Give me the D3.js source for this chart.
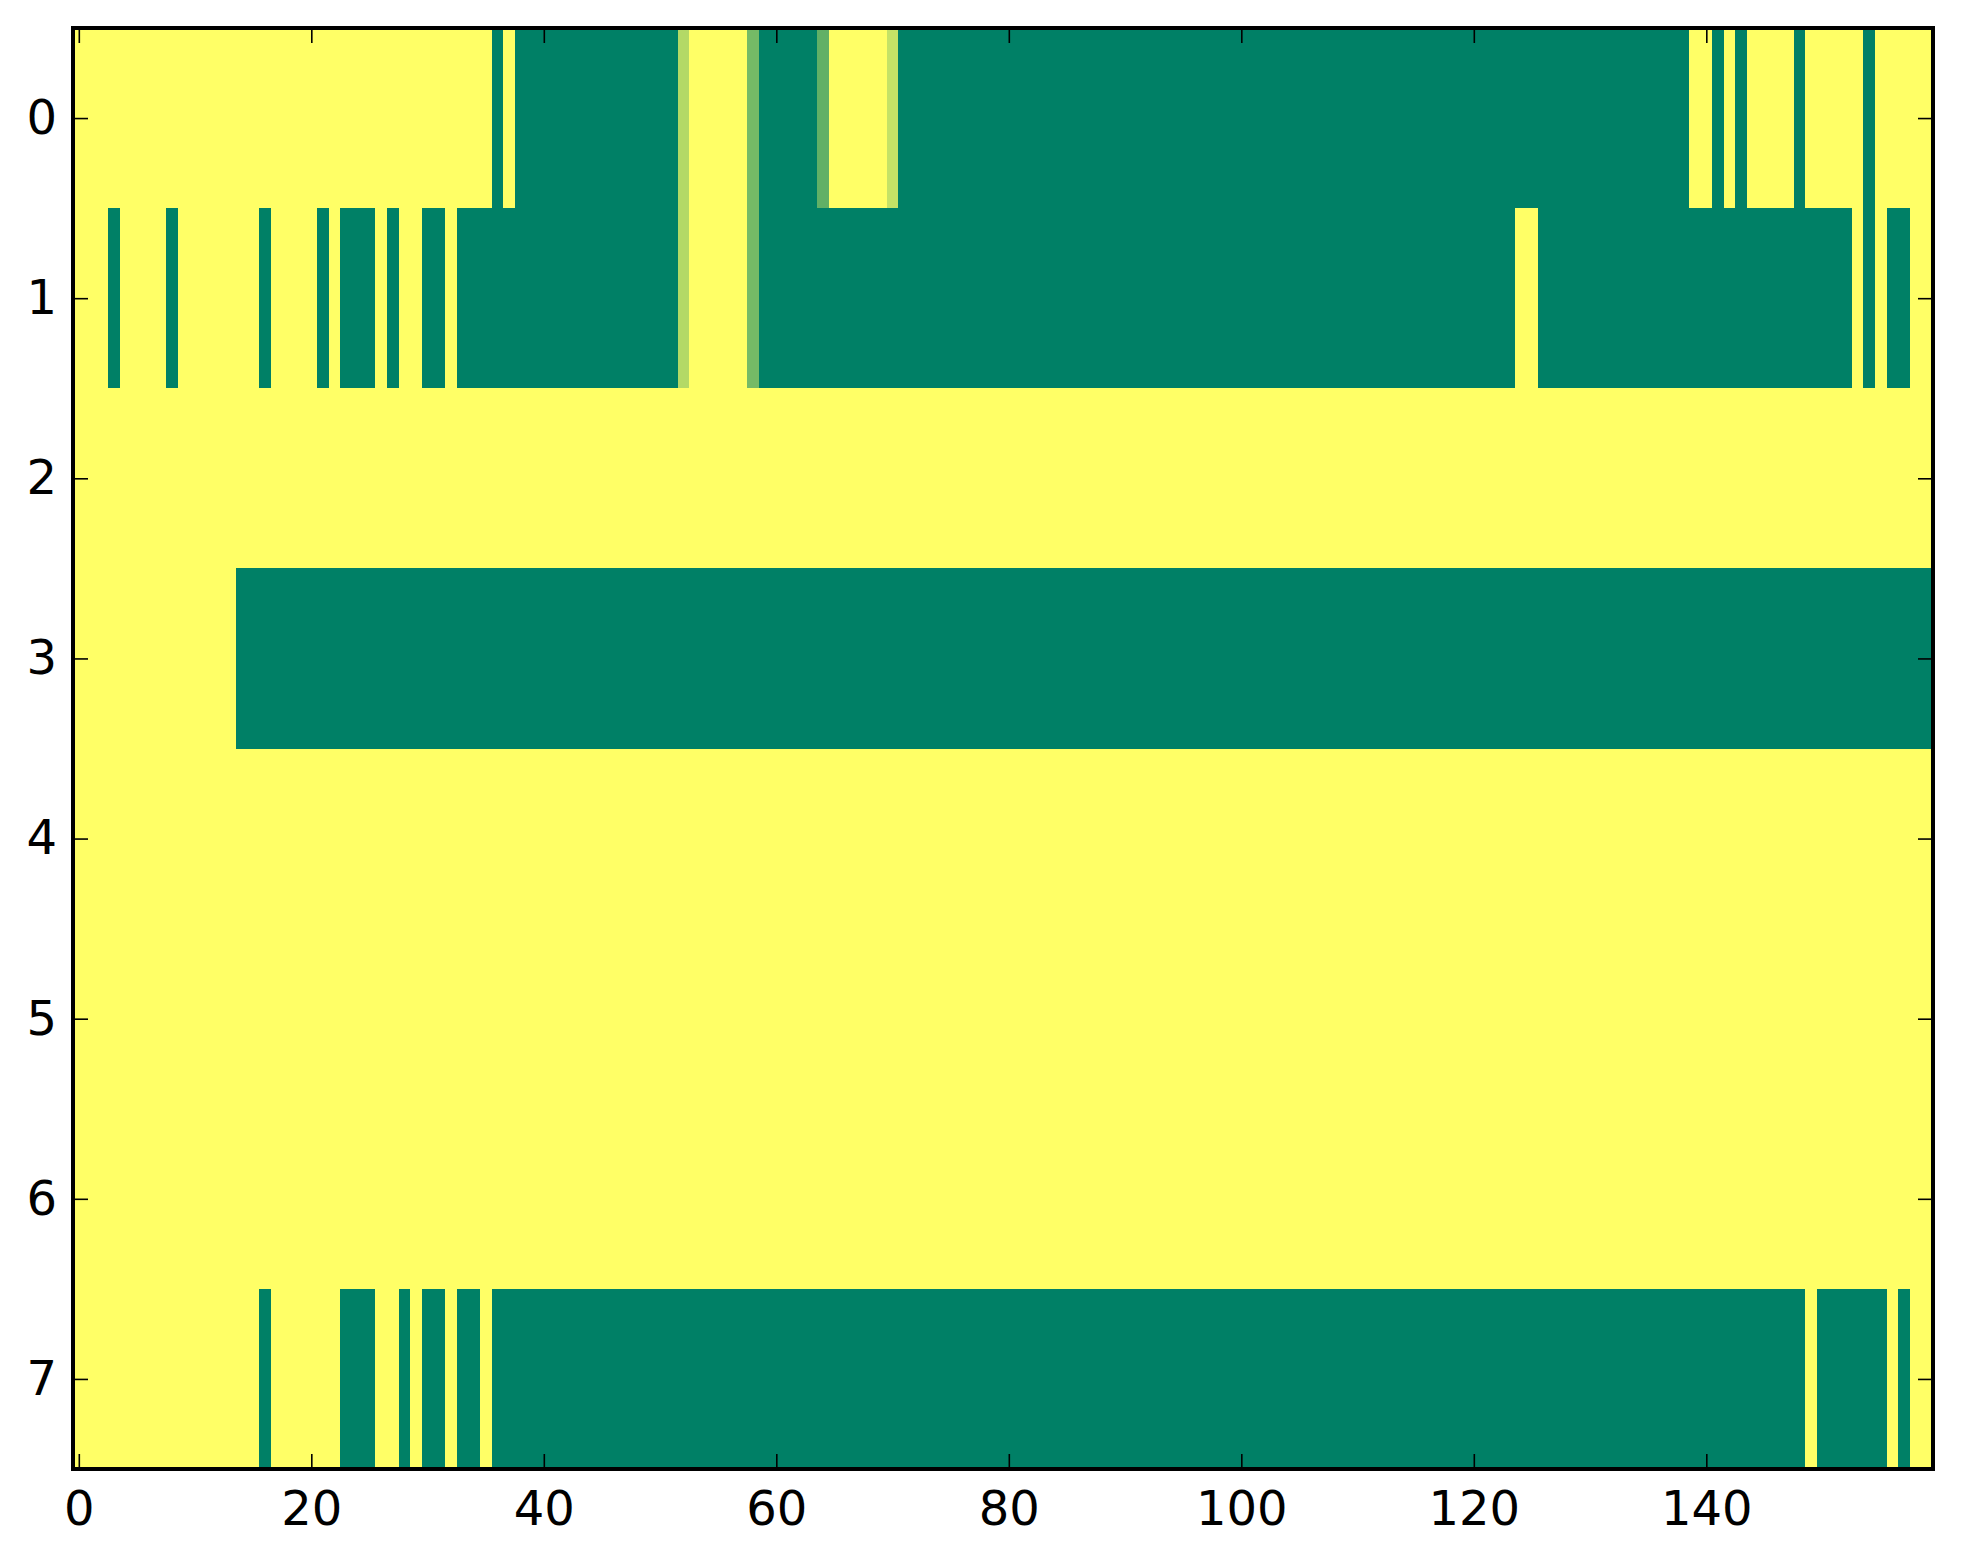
<!DOCTYPE html>
<html>
<head>
<meta charset="utf-8">
<script src="https://cdn.jsdelivr.net/npm/d3@7"></script>
<style>
  html, body { margin: 0; padding: 0; background: #fff; }
  svg { display: block; }
  .tick text { font-family: "DejaVu Sans", sans-serif; font-size: 48px; fill: #000; }
</style>
</head>
<body>
<div id="chart"></div>
<script>
// grid: 8 rows x 160 columns, value 1 = yellow unless a run says otherwise
const nCols = 160;
const rowIds = [0, 1, 2, 3, 4, 5, 6, 7];
const xTicks = [0, 20, 40, 60, 80, 100, 120, 140];

// runs of [firstCol, lastCol, value]
const row0 = [[36,36,0],[38,51,0],[52,52,0.7],[58,58,0.46],[59,63,0],[64,64,0.38],
              [70,70,0.77],[71,138,0],[141,141,0],[143,143,0],[148,148,0],[154,154,0]];
const row1 = [[3,3,0],[8,8,0],[16,16,0],[21,21,0],[23,25,0],[27,27,0],[30,31,0],
              [33,51,0],[52,52,0.7],[58,58,0.46],[59,123,0],[126,152,0],[154,154,0],[156,157,0]];
const row2 = [];
const row3 = [[14,159,0]];
const row4 = [];
const row5 = [];
const row6 = [];
const row7 = [[16,16,0],[23,25,0],[28,28,0],[30,31,0],[33,34,0],[36,148,0],[150,155,0],[157,157,0]];

const rows = [row0, row1, row2, row3, row4, row5, row6, row7];

// expand runs into cells
const cells = [];
rows.forEach((runs, r) => {
  const vals = new Array(nCols).fill(1);
  runs.forEach(([a, b, v]) => { for (let c = a; c <= b; c++) vals[c] = v; });
  vals.forEach((v, c) => cells.push({row: r, col: c, v: v}));
});

const W = 1963, H = 1564;
const plot = {left: 73, right: 1933, top: 28, bottom: 1469};

const x = d3.scaleLinear().domain([-0.5, nCols - 0.5]).range([plot.left, plot.right]);
const y = d3.scaleLinear().domain([-0.5, 7.5]).range([plot.top, plot.bottom]);
// matplotlib "summer": green -> yellow
const color = d3.scaleLinear().domain([0, 1]).range(["#008066", "#ffff66"]);

const svg = d3.select('#chart').append('svg')
  .attr('width', W).attr('height', H);

svg.append('g')
  .selectAll('rect')
  .data(cells).join('rect')
    .attr('x', d => x(d.col - 0.5))
    .attr('y', d => y(d.row - 0.5))
    .attr('width', d => x(d.col + 0.5) - x(d.col - 0.5) + 0.3)
    .attr('height', d => y(d.row + 0.5) - y(d.row - 0.5) + 0.3)
    .attr('fill', d => color(d.v))
    .attr('shape-rendering', 'crispEdges');

// axes, ticks pointing inward on all four sides
const tickLen = 15;
const gx = svg.append('g').attr('transform', `translate(0,${plot.bottom})`)
  .call(d3.axisBottom(x).tickValues(xTicks).tickSizeInner(-tickLen).tickSizeOuter(0).tickPadding(22));
const gxt = svg.append('g').attr('transform', `translate(0,${plot.top})`)
  .call(d3.axisTop(x).tickValues(xTicks).tickSizeInner(-tickLen).tickSizeOuter(0).tickFormat(''));
const gy = svg.append('g').attr('transform', `translate(${plot.left},0)`)
  .call(d3.axisLeft(y).tickValues(rowIds).tickSizeInner(-tickLen).tickSizeOuter(0).tickPadding(16));
const gyr = svg.append('g').attr('transform', `translate(${plot.right},0)`)
  .call(d3.axisRight(y).tickValues(rowIds).tickSizeInner(-tickLen).tickSizeOuter(0).tickFormat(''));

[gx, gxt, gy, gyr].forEach(g => {
  g.select('.domain').remove();
  g.selectAll('.tick line').attr('stroke', '#000').attr('stroke-width', 1.6);
  g.attr('font-size', null).attr('font-family', null);
});

// frame
svg.append('rect')
  .attr('x', plot.left).attr('y', plot.top)
  .attr('width', plot.right - plot.left).attr('height', plot.bottom - plot.top)
  .attr('fill', 'none').attr('stroke', '#000').attr('stroke-width', 4);
</script>
</body>
</html>
